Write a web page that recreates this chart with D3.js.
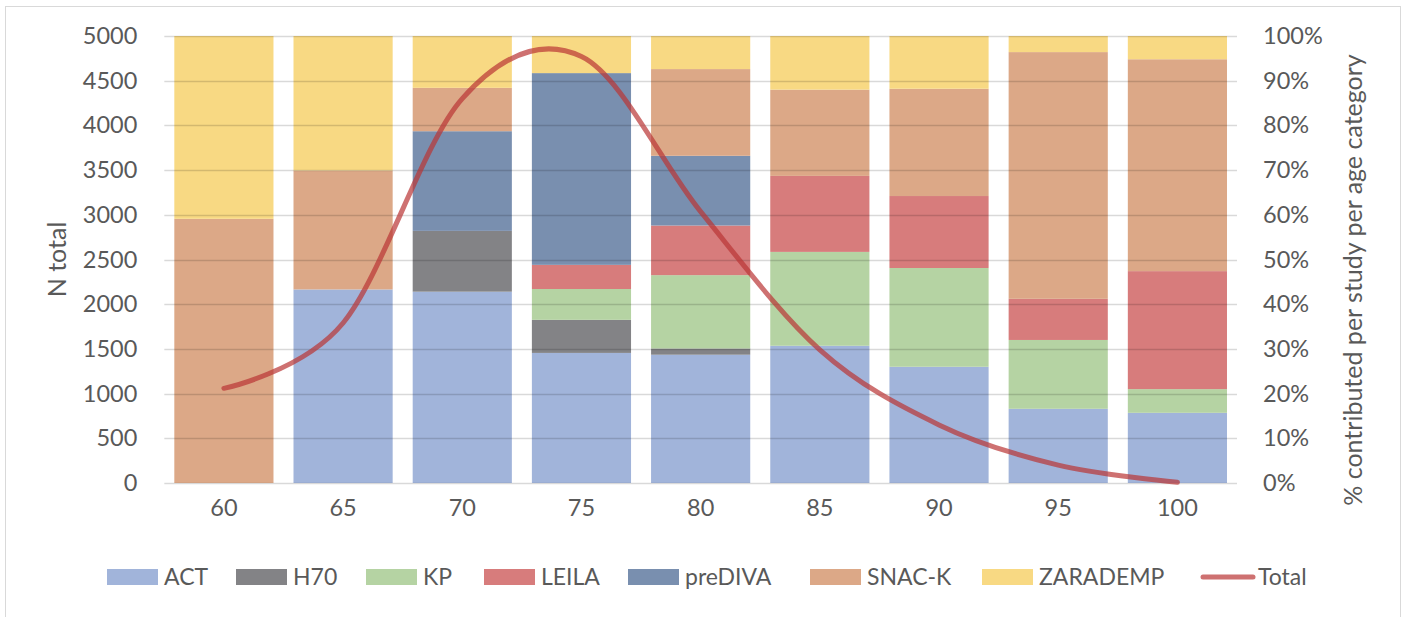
<!DOCTYPE html>
<html><head><meta charset="utf-8">
<script src="https://cdn.jsdelivr.net/npm/d3@7/dist/d3.min.js"></script>
<style>
html,body{margin:0;padding:0;background:#fff;}
svg{display:block;font-family:Lato,"Open Sans",sans-serif;}
</style></head>
<body><svg id="c" width="1407" height="617"></svg>
<script>
const categories = ["60","65","70","75","80","85","90","95","100"];
const studies = ["ACT","H70","KP","LEILA","preDIVA","SNAC-K","ZARADEMP"];
const ACT      = [0, 43.3, 42.8, 29.1, 28.7, 30.7, 26.0, 16.6, 15.7];
const H70      = [0, 0, 13.6, 7.4, 1.4, 0, 0, 0, 0];
const KP       = [0, 0, 0, 6.9, 16.4, 21.0, 22.1, 15.4, 5.3];
const LEILA    = [0, 0, 0, 5.4, 11.1, 17.0, 16.1, 9.2, 26.4];
const preDIVA  = [0, 0, 22.3, 42.9, 15.6, 0, 0, 0, 0];
const SNACK    = [59.1, 26.6, 9.7, 0, 19.4, 19.3, 24.0, 55.2, 47.4];
const ZARADEMP = [40.9, 30.1, 11.6, 8.3, 7.4, 12.0, 11.8, 3.6, 5.2];
const Total    = [1059, 1790, 4300, 4770, 3035, 1490, 650, 200, 8];
const leftTicks = [0,500,1000,1500,2000,2500,3000,3500,4000,4500,5000];
const rightTicks = [0,10,20,30,40,50,60,70,80,90,100];

const seriesValues = [ACT,H70,KP,LEILA,preDIVA,SNACK,ZARADEMP];
const colors = ["#A1B4DA","#838386","#B5D3A3","#D77C7C","#798FAF","#DCA887","#F8D983"];
const lineColor = "rgba(185,52,52,0.7)";
const textColor = "#595959";

const svg = d3.select("#c");
svg.append("rect").attr("x",5.5).attr("y",6.5).attr("width",1395).attr("height",640)
  .attr("fill","#fff").attr("stroke","#D9D9D9").attr("stroke-width",1);

const L = 164.3, R = 1237, T = 36, B = 483;
const x = d3.scaleBand().domain(categories).range([L,R]).paddingInner(0.168).paddingOuter(0.084);
const yN = d3.scaleLinear().domain([0,5000]).range([B,T]);
const yP = d3.scaleLinear().domain([0,100]).range([B,T]);

const table = categories.map((c,i)=>{const o={cat:c}; studies.forEach((s,j)=>o[s]=seriesValues[j][i]); return o;});
const stacked = d3.stack().keys(studies)(table);

const g = svg.append("g");
stacked.forEach((layer,j)=>{
  g.append("g").attr("fill",colors[j]).selectAll("rect").data(layer).join("rect")
    .attr("x",d=>x(d.data.cat)).attr("width",x.bandwidth())
    .attr("y",d=>yP(d[1])).attr("height",d=>Math.max(0,yP(d[0])-yP(d[1])));
});

svg.append("g").selectAll("line").data(leftTicks).join("line")
  .attr("x1",L).attr("x2",R).attr("y1",d=>Math.round(yN(d))+0.5).attr("y2",d=>Math.round(yN(d))+0.5)
  .attr("stroke","rgba(0,0,0,0.15)").attr("stroke-width",1.3);

const line = d3.line().x((d,i)=>x(categories[i])+x.bandwidth()/2).y(d=>yN(d)).curve(d3.curveCatmullRom.alpha(0));
svg.append("path").datum(Total).attr("d",line).attr("fill","none")
  .attr("stroke",lineColor).attr("stroke-width",5).attr("stroke-linecap","round").attr("stroke-linejoin","round");

const fs = 23.5;
const axL = svg.append("g").attr("transform",`translate(${L},0)`)
  .call(d3.axisLeft(yN).tickValues(leftTicks).tickSize(0).tickPadding(27).tickFormat(d3.format("d")));
const axR = svg.append("g").attr("transform",`translate(${R},0)`)
  .call(d3.axisRight(yP).tickValues(rightTicks).tickSize(0).tickPadding(26).tickFormat(d=>d+"%"));
const axB = svg.append("g").attr("transform",`translate(0,${B})`)
  .call(d3.axisBottom(x).tickSize(0).tickPadding(16));
[axL,axR,axB].forEach(a=>{
  a.select(".domain").remove();
  a.selectAll("text").attr("fill",textColor).style("font-size",fs+"px").style("font-family","Lato,'Open Sans',sans-serif");
});

svg.append("text").attr("transform",`translate(66,${(T+B)/2}) rotate(-90)`).attr("text-anchor","middle")
  .attr("fill",textColor).style("font-size","25px").text("N total");
svg.append("text").attr("transform",`translate(1362,280) rotate(-90)`).attr("text-anchor","middle")
  .attr("fill",textColor).style("font-size","25px").text("% contributed per study per age category");

const legendX = [107,236,366,484,628,810,982,1200];
const items = studies.map((s,j)=>({name:s,color:colors[j],type:"rect"})).concat([{name:"Total",color:lineColor,type:"line"}]);
const lg = svg.append("g").attr("transform","translate(0,577)");
items.forEach((it,i)=>{
  const gi = lg.append("g").attr("transform",`translate(${legendX[i]},0)`);
  if(it.type==="rect") gi.append("rect").attr("x",0).attr("y",-8).attr("width",51).attr("height",16).attr("fill",it.color);
  else gi.append("line").attr("x1",3).attr("x2",53).attr("y1",0).attr("y2",0).attr("stroke",it.color).attr("stroke-width",5).attr("stroke-linecap","round");
  gi.append("text").attr("x",it.type==="rect"?57:58).attr("y",8).attr("fill",textColor).style("font-size","23px").text(it.name);
});
</script></body></html>
